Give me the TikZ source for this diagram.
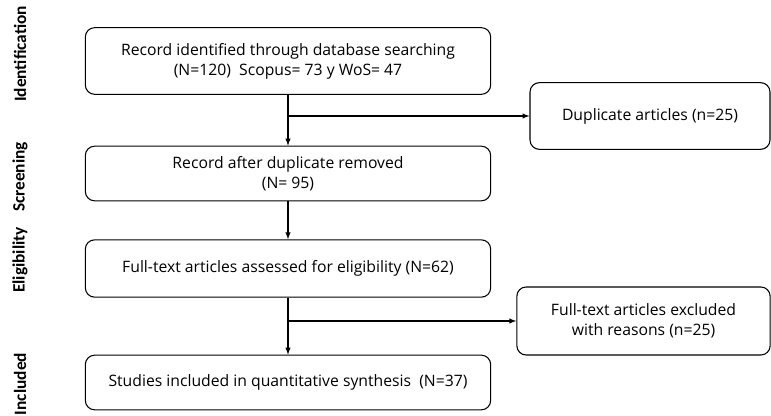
\documentclass[tikz,border=0pt]{standalone}
\usepackage{fontspec}
\setmainfont{Open Sans}
\newfontfamily\stagefont{Carlito}
\usetikzlibrary{positioning}

\begin{document}
\begin{tikzpicture}[x=0.75pt,y=-0.75pt,
  box/.style={draw, rounded corners=7pt, line width=.8pt, align=center, inner sep=0, font=\fontsize{11.8}{15}\selectfont},
  stage/.style={rotate=90, font=\stagefont\bfseries\fontsize{13}{13}\selectfont},
  arrow/.style={->, >=latex, line width=.8pt}]
\useasboundingbox (0,0) rectangle (771,416);

% MAIN COLUMN
\node [box, minimum width=304pt, minimum height=50pt] (ident) at (288,61)
  {Record identified through database searching\\(N=120)\ \ Scopus= 73 y WoS= 47};
\node [box, minimum width=304pt, minimum height=41pt] (screen) at (288,173.5)
  {Record after duplicate removed\\(N= 95)};
\node [box, minimum width=304pt, minimum height=43pt] (elig) at (288,268.5)
  {Full-text articles assessed for eligibility (N=62)};
\node [box, minimum width=304pt, minimum height=41pt] (incl) at (288,382.5)
  {Studies included in quantitative synthesis\ \ (N=37)};

% SIDE BOXES
\node [box, minimum width=180pt, minimum height=50pt] (dup) at (650,116)
  {Duplicate articles (n=25)};
\node [box, minimum width=190pt, minimum height=51pt] (excl) at (643.5,321)
  {Full-text articles excluded\\with reasons (n=25)};

% ARROWS
\draw [arrow] (ident) -- (screen);
\draw [arrow] (screen) -- (elig);
\draw [arrow] (elig) -- (incl);
\draw [arrow] (ident.south |- dup.west) -- (dup);
\draw [arrow] (elig.south |- excl.west) -- (excl);

% STAGE LABELS
\node [stage] (sident) at (20,54) {Identification};
\node [stage] (sscreen) at (20,177) {Screening};
\node [stage] (selig) at (20,260) {Eligibility};
\node [stage] (sincl) at (20,384) {Included};
\end{tikzpicture}
\end{document}
